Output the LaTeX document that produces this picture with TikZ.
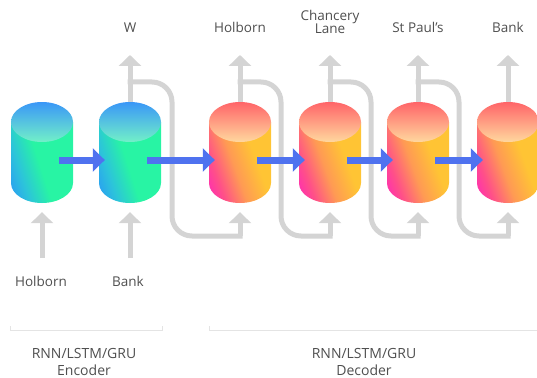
\documentclass[tikz,border=0pt]{standalone}
\usepackage{fontspec}
\setmainfont{Open Sans}
\usetikzlibrary{arrows.meta}

\definecolor{flowblue}{HTML}{4F72EF}
\definecolor{lightgrey}{HTML}{D4D4D4}
\definecolor{bracketgrey}{HTML}{E4E4E4}
\definecolor{labelgrey}{HTML}{4F4F4F}
\definecolor{encA}{HTML}{2A8AFF}
\definecolor{encB}{HTML}{2CC4DA}
\definecolor{encC}{HTML}{28F4A4}
\definecolor{enctopA}{HTML}{3A97F7}
\definecolor{enctopB}{HTML}{72F0C8}
\definecolor{decA}{HTML}{FF12D4}
\definecolor{decP}{HTML}{FF5088}
\definecolor{decB}{HTML}{FF9A54}
\definecolor{decC}{HTML}{FFC434}
\definecolor{dectopA}{HTML}{FF6468}
\definecolor{dectopB}{HTML}{FFD89E}

\pgfdeclareverticalshading{encshade}{100bp}{color(0bp)=(encA); color(14bp)=(encA); color(32bp)=(encB); color(48bp)=(encC); color(100bp)=(encC)}
\pgfdeclareverticalshading{decshade}{100bp}{color(0bp)=(decA); color(12bp)=(decA); color(30bp)=(decP); color(45bp)=(decB); color(62bp)=(decC); color(100bp)=(decC)}

% body and lid of one cell, #1 = x of its axis
\newcommand{\drawcyl}[3]{%
  \shade[#2] (#1-31,122) -- (#1-31,183) arc[start angle=180, end angle=0, x radius=31, y radius=20] -- (#1+31,122) -- cycle;
  \shade[#3] (#1,122) ellipse[x radius=31, y radius=20];
}

\begin{document}
\begin{tikzpicture}[x=1pt, y=-1pt,
    cyl/.style={minimum width=62pt, minimum height=101pt, inner sep=0pt},
    word/.style={text=labelgrey, font=\fontsize{13.5}{13.5}\selectfont, align=center, inner sep=0pt},
    caption/.style={word, font=\fontsize{14}{17}\selectfont},
    flow/.style={flowblue, line width=7pt, -{Triangle[length=12pt, width=23pt]}},
    loopline/.style={lightgrey, line width=5pt, line cap=rect, rounded corners=20pt},
    grayarrow/.style={lightgrey, line width=5pt, -{Triangle[length=11pt, width=22pt]}},
    encbody/.style={shading=encshade, shading angle=-72},
    enctop/.style={top color=enctopA, bottom color=enctopB},
    decbody/.style={shading=decshade, shading angle=-70},
    dectop/.style={top color=dectopA, bottom color=dectopB}]
  \useasboundingbox (0,0) rectangle (537,377);

  \foreach \name/\x in {e1/42, e2/130, d1/240, d2/330, d3/418, d4/508}
    \node[cyl] (\name) at (\x,152.5) {};

  \node[word, anchor=base] (w) at (130,33) {W};
  \node[word, anchor=base] (o1) at (240,33) {Holborn};
  \node[word, anchor=base] (o2) at (330,34) {Chancery\\Lane};
  \node[word, anchor=base] (o3) at (418,33) {St Paul’s};
  \node[word, anchor=base] (o4) at (508,33) {Bank};

  \node[word, anchor=base] (i1) at (41,286) {Holborn};
  \node[word, anchor=base] (i2) at (128,286) {Bank};

  \node[caption, anchor=base] (enc) at (84,375) {RNN/LSTM/GRU\\Encoder};
  \node[caption, anchor=base] (dec) at (364,375) {RNN/LSTM/GRU\\Decoder};

  \draw[bracketgrey, line width=1pt] (10,326) |- (162,330) -- (162,326);
  \draw[bracketgrey, line width=1pt] (209,326) |- (540,330);

  \foreach \a/\b/\x in {e2/d1/172, d1/d2/281, d2/d3/371, d3/d4/459} {
    \draw[loopline] (\a.north |- 0,82) -| (\x,236) -- (\b.south |- 0,236);
    \draw[grayarrow, shorten >=9pt] (\b.south |- 0,236) -- (\b.south);
  }
  \foreach \n in {e2, d1, d2, d3, d4}
    \draw[grayarrow] (\n.north) -- (\n.north |- 0,55);
  \foreach \n in {e1, e2}
    \draw[grayarrow, shorten >=9pt] (\n.south |- 0,258) -- (\n.south);

  \drawcyl{42}{encbody}{enctop}
  \drawcyl{130}{encbody}{enctop}
  \foreach \x in {240, 330, 418, 508} {
    \drawcyl{\x}{decbody}{dectop}
  }

  \foreach \a/\b in {e1/e2, e2/d1, d1/d2, d2/d3, d3/d4}
    \draw[flow] ([xshift=17pt, yshift=-7.5pt]\a.center) -- ([xshift=6pt, yshift=-7.5pt]\b.west);
\end{tikzpicture}
\end{document}
